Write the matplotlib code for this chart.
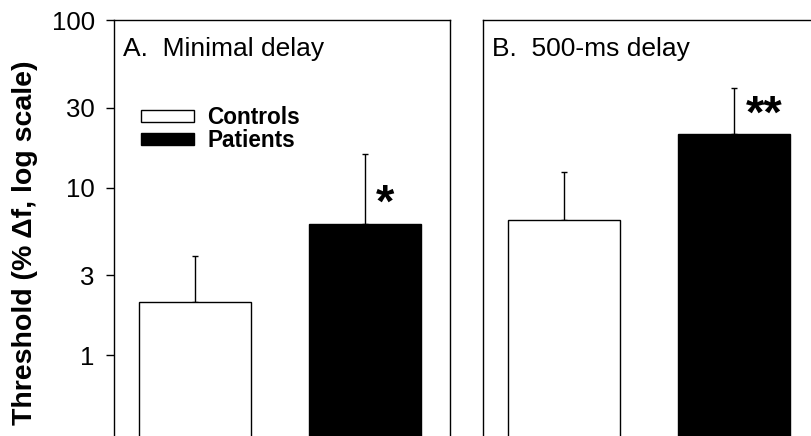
import matplotlib
matplotlib.use("Agg")
from matplotlib import pyplot as plt
from matplotlib.ticker import FixedLocator, NullLocator, FixedFormatter

plt.rcParams["font.family"] = ["Liberation Sans", "DejaVu Sans"]

# values (threshold, % delta f)
groups = ["Controls", "Patients"]
minimal_mean = [2.07, 6.05]
minimal_err_top = [3.9, 15.8]
delay_mean = [6.4, 20.9]
delay_err_top = [12.4, 39.3]
panel_titles = ["A.  Minimal delay", "B.  500-ms delay"]
stars = ["*", "**"]
y_ticks = [1, 3, 10, 30, 100]
y_tick_labels = ["1", "3", "10", "30", "100"]

fig = plt.figure(figsize=(8.11, 4.36), dpi=100)
ax_a = fig.add_axes([114 / 811, 0.0, 336 / 811, 416 / 436])
ax_b = fig.add_axes([483 / 811, 0.0, 336 / 811, 416 / 436])

x = [0, 1]
colors = ["white", "black"]
star_pos = [(1.12, 7.9), (1.18, 27.0)]

for i, (ax, means, tops) in enumerate(
    [(ax_a, minimal_mean, minimal_err_top), (ax_b, delay_mean, delay_err_top)]
):
    ax.set_yscale("log")
    ax.bar(x, means, width=0.66, color=colors, edgecolor="black",
           linewidth=1.0, bottom=0.01, zorder=2)
    upper = [t - m for t, m in zip(tops, means)]
    ax.errorbar(x, means, yerr=[[0, 0], upper], fmt="none", ecolor="black",
                elinewidth=1.0, capsize=2.5, capthick=1.0, zorder=1)
    ax.set_xlim(-0.48, 1.50)
    ax.set_ylim(0.33, 100)
    ax.set_xticks([])
    ax.spines["bottom"].set_visible(False)
    for s in ["left", "top", "right"]:
        ax.spines[s].set_linewidth(1.0)
    ax.text(0.027, 0.93, panel_titles[i], transform=ax.transAxes,
            fontsize=19, ha="left", va="center")
    ax.text(star_pos[i][0], star_pos[i][1], stars[i], fontsize=34,
            fontweight="bold", ha="center", va="center")
    ax.yaxis.set_minor_locator(NullLocator())

ax_a.yaxis.set_major_locator(FixedLocator(y_ticks))
ax_a.yaxis.set_major_formatter(FixedFormatter(y_tick_labels))
ax_a.tick_params(axis="y", direction="out", length=5.8, width=1.0,
                 labelsize=18.5, pad=8)
ax_a.set_ylabel("Threshold (% \u0394f, log scale)", fontsize=20.5,
                fontweight="bold")
ax_a.yaxis.set_label_coords(-0.225, 0.464)

ax_b.set_yticks([])
ax_b.spines["right"].set_visible(False)

ax_a.legend(ax_a.containers[0].patches, groups, loc="upper left",
            bbox_to_anchor=(0.047, 0.82), frameon=False,
            prop={"weight": "bold", "size": 16.3},
            handlelength=2.34, handleheight=0.44, handletextpad=0.58,
            labelspacing=0.0, borderpad=0)

fig.savefig("out.png", dpi=100)
